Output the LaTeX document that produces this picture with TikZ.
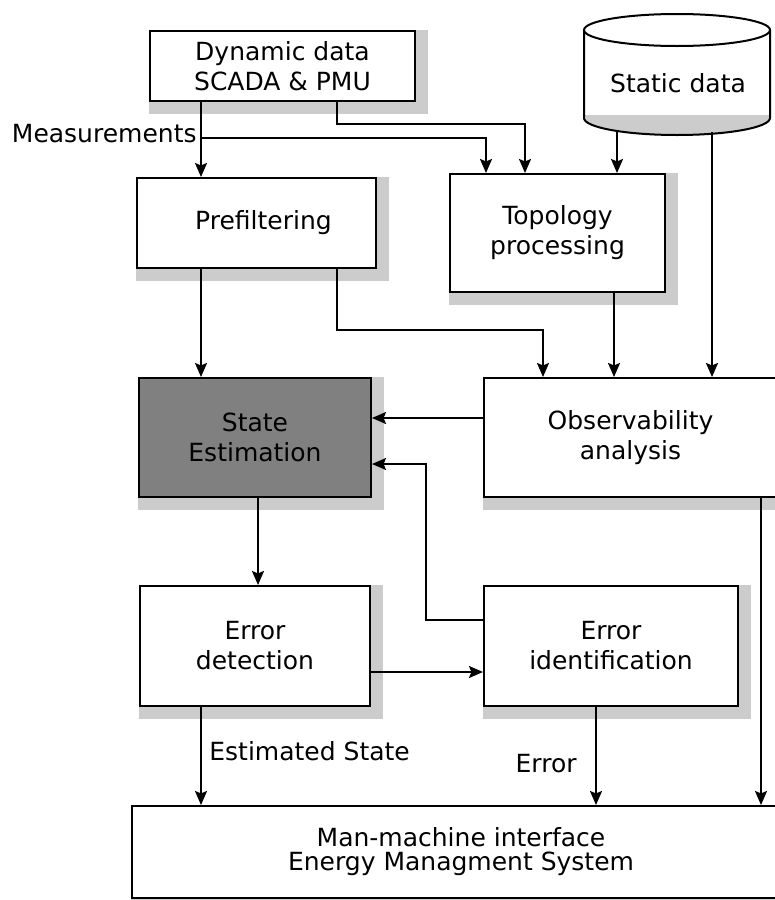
\documentclass[tikz,border=0pt]{standalone}
\usepackage{fontspec}
\setmainfont{DejaVu Sans}
\usetikzlibrary{arrows.meta}
\usetikzlibrary{backgrounds}

\begin{document}
\begin{tikzpicture}[x=0.5pt,y=-0.5pt,
        box/.style={draw,line width=1pt,fill=white,align=center,inner sep=0pt,font=\fontsize{12.5}{15}\selectfont},
        arr/.style={line width=0.9pt,-{Stealth[length=7pt,width=6pt,inset=1.2pt]}},
        lbl/.style={inner sep=0pt,font=\fontsize{12.5}{15}\selectfont},
        shade/.style={fill=black!20}]
        \useasboundingbox (0,0) rectangle (775,900);

        % blocks
        \node[box,minimum width=132.5pt,minimum height=35pt] (dyn) at (282.5,66) {Dynamic data\\SCADA \& PMU};
        \node[box,minimum width=119.5pt,minimum height=45pt] (pre) at (256.5,223) {\hspace{7pt}Prefiltering};
        \node[box,minimum width=107.5pt,minimum height=59pt] (topo) at (557.5,233) {Topology\\processing};
        \node[box,minimum width=116pt,minimum height=59.5pt,fill=black!50] (se) at (255,437.5) {State\\Estimation};
        \node[box,minimum width=146.5pt,minimum height=59.5pt] (obs) at (630.5,437.5) {Observability\\analysis};
        \node[box,minimum width=115pt,minimum height=60pt] (ed) at (255,646) {Error\\detection};
        \node[box,minimum width=127pt,minimum height=60pt] (ei) at (611,646) {Error\\identification};
        \node[box,minimum width=329pt,minimum height=46pt,font=\fontsize{12.5}{12}\selectfont] (mmi) at (461,852) {Man-machine interface\\Energy Managment System};

        % static data drum
        \fill[white] (584,30) -- (584,118) arc[start angle=180,end angle=0,x radius=93,y radius=17] -- (770,30) -- cycle;
        \fill[shade] (584,115) -- (584,118) arc[start angle=180,end angle=0,x radius=93,y radius=17] -- (770,115) -- cycle;
        \draw[line width=1pt] (584,30) -- (584,118) arc[start angle=180,end angle=0,x radius=93,y radius=17] -- (770,30);
        \draw[line width=1pt,fill=white] (677,30) ellipse[x radius=93,y radius=16];
        \node[lbl] (stat) at (678,83) {Static data};
        \coordinate (sbot) at (677,132);

        % shadows
        \begin{scope}[on background layer]
        \foreach \n in {dyn,pre,topo,se,obs,ed,ei,mmi}
            \fill[shade] (\n.north west) rectangle ([shift={(12,12)}]\n.south east);
        \end{scope}

        \coordinate (xa) at (201,0);
        \coordinate (xb) at (337,0);
        \coordinate (xc) at (486,0);
        \coordinate (xd) at (525,0);
        \coordinate (xe) at (617,0);
        \coordinate (xf) at (712,0);
        \coordinate (xg) at (543,0);
        \coordinate (xh) at (258,0);
        \coordinate (xk) at (426,0);
        \coordinate (xl) at (761,0);
        \coordinate (xm) at (596,0);
        \coordinate (xn) at (614,0);
        \coordinate (ya) at (0,418);
        \coordinate (yb) at (0,464);
        \coordinate (yc) at (0,620);
        \coordinate (yd) at (0,672);
        \coordinate (m) at (201,138);

        % connectors
        \draw[arr] (dyn.south -| xa) -- (pre.north -| xa);
        \draw[arr] (m) -| (topo.north -| xc);
        \draw[arr] (dyn.south -| xb) -- ++(0,22) -| (topo.north -| xd);
        \draw[arr] (sbot -| xe) -- (topo.north -| xe);
        \draw[arr] (sbot -| xf) -- (obs.north -| xf);
        \draw[arr] (pre.south -| xa) -- (se.north -| xa);
        \draw[arr] (pre.south -| xb) -- ++(0,61) -| (obs.north -| xg);
        \draw[arr] (topo.south -| xn) -- (obs.north -| xn);
        \draw[arr] (obs.west |- ya) -- (se.east |- ya);
        \draw[arr] (ei.west |- yc) -| (xk |- yb) -- (se.east |- yb);
        \draw[arr] (se.south -| xh) -- (ed.north -| xh);
        \draw[arr] (ed.east |- yd) -- (ei.west |- yd);
        \draw[arr] (ed.south -| xa) -- (mmi.north -| xa);
        \draw[arr] (ei.south -| xm) -- (mmi.north -| xm);
        \draw[arr] (obs.south -| xl) -- (mmi.north -| xl);

        \node[lbl,anchor=base east] (meas) at (197,142) {Measurements};
        \node[lbl,anchor=base west] (est) at (209,760) {Estimated State};
        \node[lbl,anchor=base east] (err) at (577,772) {Error};
\end{tikzpicture}
\end{document}
